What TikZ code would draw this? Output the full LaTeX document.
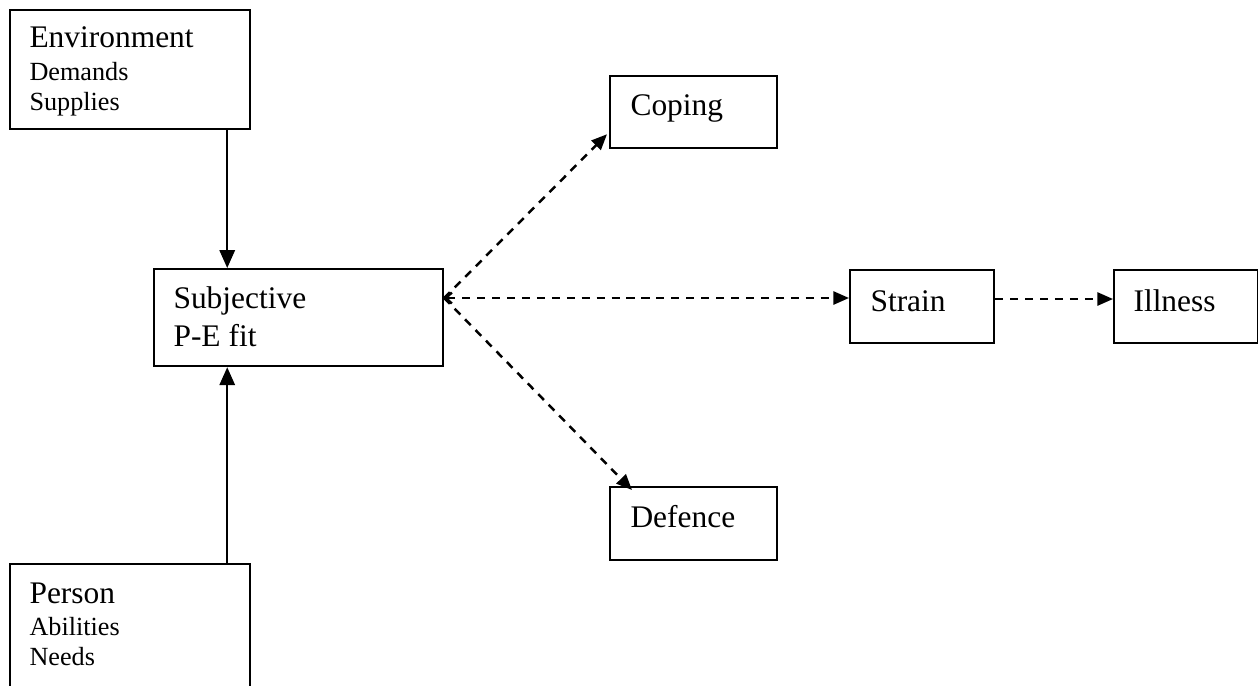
\documentclass[tikz,border=0pt]{standalone}
\usepackage{fontspec}
\setmainfont{Liberation Serif}
\usetikzlibrary{arrows.meta,calc}
\begin{document}
\begin{tikzpicture}[x=0.3817pt,y=-0.3817pt,
  box/.style 2 args={draw,line width=0.85pt,inner sep=0pt,anchor=north west,
    minimum width=#1*0.3817pt,minimum height=#2*0.3817pt},
  big/.style={anchor=base west,inner sep=0pt,font=\fontsize{12}{14}\selectfont},
  small/.style={anchor=base west,inner sep=0pt,font=\fontsize{10}{12}\selectfont},
  solidarrow/.style={line width=0.9pt,-{Triangle[length=6.8pt,width=5.8pt]}},
  dasharrow/.style={line width=0.95pt,dash pattern=on 3.1pt off 2.6pt,
    -{Triangle[length=6pt,width=5pt]}}]
\useasboundingbox (0,0) rectangle (1258,685);
\clip (0,0) rectangle (1258,685);

% boxes
\node[box={240}{119}] (env) at (9,9) {};
\node[box={289}{97}] (subj) at (153,268) {};
\node[box={240}{140}] (person) at (9,563) {};
\node[box={167}{72}] (coping) at (609,75) {};
\node[box={167}{73}] (defence) at (609,486) {};
\node[box={144}{73}] (strain) at (849,269) {};
\node[box={144}{73}] (illness) at (1113,269) {};

% box texts
\node[big] (envt) at (29,47) {Environment};
\node[small] (envd) at (29,80) {Demands};
\node[small] (envs) at (29,110) {Supplies};
\node[big] (pert) at (29,603) {Person};
\node[small] (pera) at (29,635) {Abilities};
\node[small] (pern) at (29,665) {Needs};
\node[big] (subt) at (173,308) {Subjective};
\node[big] (subf) at (173,346) {P-E fit};
\node[big] (copt) at (630,115) {Coping};
\node[big] (deft) at (630,527) {Defence};
\node[big] (strt) at (870,311) {Strain};
\node[big] (illt) at (1133,311) {Illness};

% solid inputs
\draw[solidarrow] ($(env.south east)+(-24,0)$) coordinate (envout) -- (envout |- subj.north);
\draw[solidarrow] ($(person.north east)+(-24,0)$) coordinate (perout) -- (perout |- subj.south);

% dashed outputs
\coordinate (hub) at ($(subj.north east)+(0,30)$);
\draw[dasharrow,{Straight Barb[length=2.2pt,width=4.2pt]}-{Triangle[length=6pt,width=5pt]}]
  (hub) -- (hub -| strain.west);
\draw[dasharrow] (hub) -- ($(coping.south west)+(-2,-15)$);
\draw[dasharrow] (hub) -- ($(defence.north west)+(23,4)$);
\draw[dasharrow] ($(strain.north east)+(0,30)$) -- ($(illness.north west)+(0,30)$);
\end{tikzpicture}
\end{document}
